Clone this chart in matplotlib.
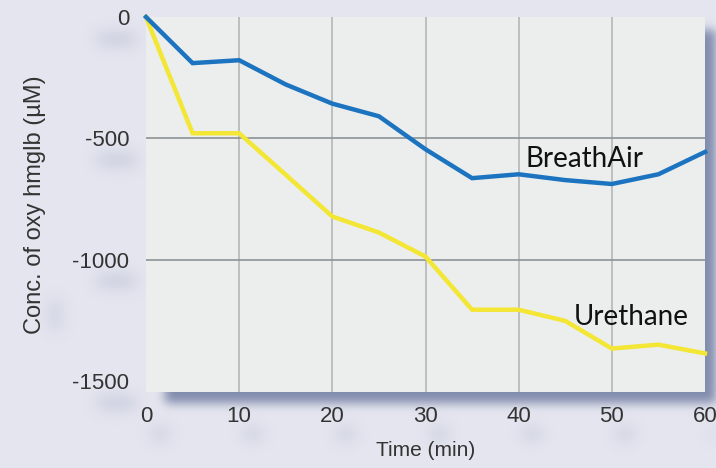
import numpy as np
import matplotlib
matplotlib.use('Agg')
import matplotlib.pyplot as plt

plt.rcParams['axes.unicode_minus'] = False

# data
time_min = [0, 5, 10, 15, 20, 25, 30, 35, 40, 45, 50, 55, 60]
breathair = [0, -190, -178, -278, -357, -409, -545, -664, -648, -672, -688, -648, -556]
urethane = [0, -479, -479, -650, -822, -888, -987, -1206, -1206, -1252, -1366, -1350, -1386]
x_ticks = [0, 10, 20, 30, 40, 50, 60]
y_ticks = [0, -500, -1000, -1500]

W, H = 716, 468
fig_bg = '#e4e5ef'
ax_bg = '#eceeed'
shadow_rgb = np.array([128, 139, 172]) / 255.0

fig = plt.figure(figsize=(W / 100, H / 100), dpi=100, facecolor=fig_bg)
ax_l, ax_r, ax_t, ax_b = 146, 705, 17, 392
ax = fig.add_axes([ax_l / W, 1 - ax_b / H, (ax_r - ax_l) / W, (ax_b - ax_t) / H])
ax.set_facecolor(ax_bg)
ax.set_xlim(0, 60)
ax.set_ylim(-1545, 0)


def blur(a, s):
  k = np.arange(-3 * s, 3 * s + 1)
  k = np.exp(-k**2 / (2.0 * s * s))
  k /= k.sum()
  a = np.apply_along_axis(lambda r: np.convolve(r, k, mode='same'), 0, a)
  a = np.apply_along_axis(lambda r: np.convolve(r, k, mode='same'), 1, a)
  return a

def to_px(xv, yv):
  return ax_l + xv / 60 * (ax_r - ax_l), ax_t + (yv / -1545) * (ax_b - ax_t)

# drop shadow behind the plot area (pixel rows from top)
mask = np.zeros((H, W))
mask[30:403, 165:W] = 1.0
mask = blur(mask, 5)
# soft blobs under tick labels
blobs = np.zeros((H, W))
for xv in x_ticks:
  px, _ = to_px(xv, 0)
  cx, cy = int(px + 14), 434
  blobs[cy - 4:cy + 4, max(cx - 8, 0):min(cx + 8, W)] = 1.0
for yv in y_ticks:
  _, py = to_px(0, yv)
  cx, cy = 118, int(py + 22)
  blobs[cy - 4:cy + 4, cx - 20:cx + 18] = 1.0
blobs[300:330, 50:60] = 0.6
blobs = blur(blobs, 8) * 0.45
alpha = np.clip(mask + blobs, 0, 1)
img = np.zeros((H, W, 4))
img[..., :3] = shadow_rgb
img[..., 3] = alpha
fig.figimage(img[::-1], 0, 0, zorder=-5, origin='lower')

ax.set_xticks(x_ticks)
ax.set_yticks(y_ticks)
ax.tick_params(length=0, labelsize=16, colors='#333333')
ax.tick_params(axis='x', pad=10)
ax.tick_params(axis='y', pad=12)
for lab in ax.get_xticklabels() + ax.get_yticklabels():
  lab.set_fontfamily('Liberation Sans')
for s in ax.spines.values():
  s.set_visible(False)

# grid: vertical lines light, horizontal darker
for xv in x_ticks[1:-1]:
  ax.axvline(xv, color='#b5b7b7', lw=1.2, zorder=1)
for yv in y_ticks[1:-1]:
  ax.axhline(yv, color='#8c9296', lw=1.2, zorder=1)

ax.plot(time_min, urethane, color='#f3e634', lw=3.2, solid_joinstyle='miter', zorder=3, clip_on=False)
ax.plot(time_min, breathair, color='#1c74c0', lw=3.2, solid_joinstyle='miter', zorder=4, clip_on=False)

ax.text(40.7, -616, 'BreathAir', fontsize=20, family='Lato', color='#111111', va='baseline')
ax.text(45.9, -1268, 'Urethane', fontsize=20, family='Lato', color='#111111', va='baseline')

ax.set_xlabel('Time (min)', fontsize=15, family='Liberation Sans', color='#333333')
ax.xaxis.set_label_coords(0.5, -0.131)
ax.set_ylabel('Conc. of oxy hmglb (µM)', fontsize=17, family='Liberation Sans', color='#333333')
ax.yaxis.set_label_coords(-0.178, 0.5)

fig.savefig('out.png', dpi=100, facecolor=fig_bg)
